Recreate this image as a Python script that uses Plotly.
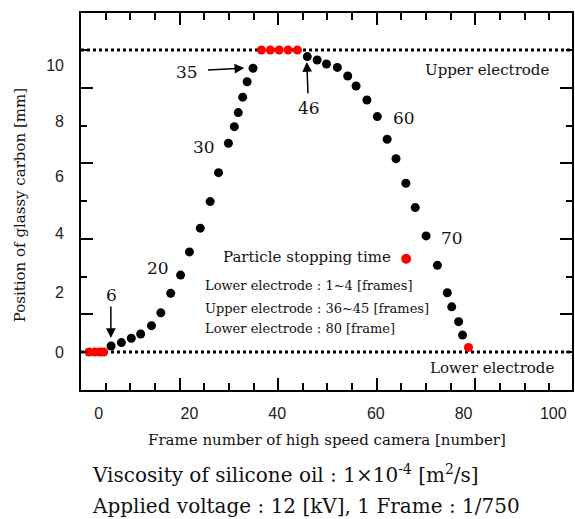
import plotly.graph_objects as go

# ---------------- data ----------------
frames_rise = [6.1, 8.2, 10.2, 12.1, 14.3, 16.2, 18.2, 20.2, 22.0, 24.2, 26.2, 27.9,
               29.9, 31.1, 31.9, 32.8, 33.7, 34.9]
pos_rise = [0.21, 0.33, 0.48, 0.63, 0.92, 1.37, 2.05, 2.69, 3.50, 4.33, 5.26, 6.27,
            7.30, 7.88, 8.37, 8.91, 9.45, 9.92]

frames_fall = [45.9, 47.9, 49.8, 52.0, 54.1, 55.8, 58.0, 60.1, 62.1, 63.9, 65.9, 67.8,
               70.0, 72.3, 74.3, 75.2, 76.6, 77.4]
pos_fall = [10.33, 10.21, 10.07, 9.95, 9.65, 9.30, 8.81, 8.23, 7.44, 6.76, 5.90, 5.05,
            4.06, 3.03, 2.07, 1.58, 1.06, 0.59]

frames_stop_lower1 = [1.6, 2.8, 3.8, 4.6]
frames_stop_upper = [36.6, 38.4, 40.2, 42.0, 43.9]
frames_stop_lower2 = [78.6]
pos_stop_lower2 = [0.16]

electrode_lower = 0.0
electrode_upper = 10.56

x_tick_labels = ["0", "20", "40", "60", "80", "100"]
y_tick_labels = ["0", "2", "4", "6", "8", "10"]

frame_labels = ["6", "20", "30", "35", "46", "60", "70"]
info_lines = ["Lower electrode : 1~4 [frames]",
              "Upper electrode : 36~45 [frames]",
              "Lower electrode : 80 [frame]"]

# ---------------- layout constants ----------------
XR = [0, 99.6]
YR = [-1.3287, 11.853]
TICK_UNIT = 1.3182          # original tick spacing (in mm units)
x_label_pos = [3.6, 22.0, 39.8, 59.8, 77.6, 95.8]
y_label_pos = [0.0, 2.1, 4.15, 6.13, 8.05, 10.03]

SERIF = "DejaVu Serif"
SANS = "Liberation Sans"

fig = go.Figure()

black_marker = dict(color="black", size=9)
red_marker = dict(color="#ff0000", size=9)

fig.add_trace(go.Scatter(x=frames_rise, y=pos_rise, mode="markers",
                         marker=black_marker, showlegend=False))
fig.add_trace(go.Scatter(x=frames_fall, y=pos_fall, mode="markers",
                         marker=black_marker, showlegend=False))
fig.add_trace(go.Scatter(x=frames_stop_lower1, y=[electrode_lower] * len(frames_stop_lower1),
                         mode="markers", marker=red_marker, showlegend=False))
fig.add_trace(go.Scatter(x=frames_stop_upper, y=[electrode_upper] * len(frames_stop_upper),
                         mode="markers", marker=red_marker, showlegend=False))
fig.add_trace(go.Scatter(x=frames_stop_lower2, y=pos_stop_lower2,
                         mode="markers", marker=red_marker, showlegend=False))
# dummy trace to host the label-only overlay axes
fig.add_trace(go.Scatter(x=[None], y=[None], xaxis="x2", yaxis="y2",
                         showlegend=False, hoverinfo="skip"))

# electrode dotted lines
for yv in (electrode_lower, electrode_upper):
    fig.add_shape(type="line", xref="paper", yref="y", x0=0, x1=1, y0=yv, y1=yv,
                  line=dict(color="black", width=3, dash="dot"), layer="below")

axis_common = dict(showgrid=False, zeroline=False, showline=True, linewidth=2,
                   linecolor="black", mirror="ticks", ticks="inside",
                   tickwidth=2, tickcolor="black", showticklabels=False)

fig.update_layout(
    width=575, height=519,
    margin=dict(l=81, r=1, t=13, b=129),
    paper_bgcolor="white", plot_bgcolor="white",
    xaxis=dict(range=XR, tickmode="linear", tick0=0, dtick=20, ticklen=12,
               minor=dict(ticks="inside", tickmode="linear", tick0=0, dtick=5,
                          ticklen=7, tickwidth=2, tickcolor="black"),
               **axis_common),
    yaxis=dict(range=YR, tickmode="linear", tick0=TICK_UNIT, dtick=2 * TICK_UNIT, ticklen=12,
               minor=dict(ticks="inside", tickmode="linear", tick0=0, dtick=TICK_UNIT,
                          ticklen=6, tickwidth=2, tickcolor="black"),
               **axis_common),
    xaxis2=dict(range=XR, overlaying="x", anchor="y", side="bottom",
                tickmode="array", tickvals=x_label_pos, ticktext=x_tick_labels,
                ticks="", showline=False, showgrid=False, zeroline=False,
                ticklabelstandoff=12,
                tickfont=dict(family=SANS, size=16, color="#222")),
    yaxis2=dict(range=YR, overlaying="y", anchor="x", side="left",
                tickmode="array", tickvals=y_label_pos, ticktext=y_tick_labels,
                ticks="", showline=False, showgrid=False, zeroline=False,
                ticklabelstandoff=16,
                tickfont=dict(family=SANS, size=16, color="#222")),
    font=dict(family=SERIF, color="#111"),
)

ann = []
def txt(x, y, s, size=16, xanchor="center", xref="x", yref="y", **kw):
    ann.append(dict(x=x, y=y, xref=xref, yref=yref, text=s, showarrow=False,
                    xanchor=xanchor, yanchor="middle",
                    font=dict(family=SERIF, size=size, color="#111"), **kw))

def arrow(x, y, ax, ay):
    ann.append(dict(x=x, y=y, ax=ax, ay=ay, xref="x", yref="y", axref="x", ayref="y",
                    text="", showarrow=True, arrowhead=2, arrowsize=1.3,
                    arrowwidth=1.5, arrowcolor="black", standoff=0, startstandoff=0))

# frame number labels
txt(6.1, 1.99, frame_labels[0], size=17)
txt(15.6, 2.93, frame_labels[1], size=17)
txt(25.05, 7.18, frame_labels[2], size=17)
txt(21.6, 9.79, frame_labels[3], size=17)
txt(46.3, 8.53, frame_labels[4], size=17)
txt(65.45, 8.17, frame_labels[5], size=17)
txt(75.2, 3.98, frame_labels[6], size=17)

# arrows
arrow(6.06, 0.49, 6.06, 1.64)
arrow(33.13, 9.93, 25.45, 9.86)
arrow(45.8, 10.14, 46.06, 8.99)

# electrode labels
txt(82.3, 9.86, "Upper electrode", size=15)
txt(83.3, -0.57, "Lower electrode", size=15)

# legend-like text
txt(28.4, 3.32, "Particle stopping time &nbsp;<span style='color:#ff0000;font-size:13px'>●</span>",
    size=15, xanchor="left")
for i, (line, yv) in enumerate(zip(info_lines, [2.34, 1.53, 0.83])):
    txt(24.7, yv, line, size=13, xanchor="left")

# axis titles
txt(0.5, -0.1326, "Frame number of high speed camera [number]", size=15,
    xref="paper", yref="paper")
txt(-0.1237, 0.4907, "Position of glassy carbon [mm]", size=15,
    xref="paper", yref="paper", textangle=-90)

# bottom captions
txt(0.0183, -0.2228, "Viscosity of silicone oil : 1×10<sup>-4</sup> [m<sup>2</sup>/s]",
    size=20, xanchor="left", xref="paper", yref="paper")
txt(0.0183, -0.3077, "Applied voltage : 12 [kV], 1 Frame : 1/750",
    size=20, xanchor="left", xref="paper", yref="paper")

fig.update_layout(annotations=ann)
fig.write_html("out.html")
